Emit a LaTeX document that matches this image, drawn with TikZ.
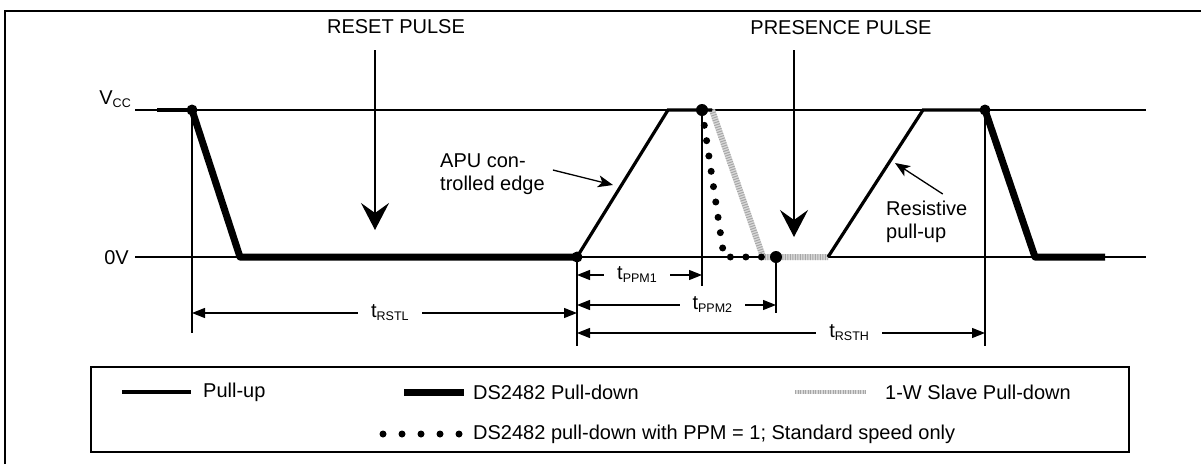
\documentclass[tikz,border=0pt]{standalone}
\usepackage{fontspec}
\setmainfont{Liberation Sans}
\usetikzlibrary{arrows.meta}

\newcommand{\subtxt}[1]{\raisebox{-3pt}{\fontsize{12.5}{12.5}\selectfont #1}}

\begin{document}
\begin{tikzpicture}[x=1pt, y=-1pt,
    lbl/.style={inner sep=0pt, font=\fontsize{20}{23}\selectfont},
    level/.style={line width=1.2pt},
    marker/.style={line width=1.3pt},
    pullup/.style={line width=3.2pt, line join=miter},
    pulldown/.style={line width=7pt, line join=round},
    slave/.style={line width=6pt, gray!30},
    slavetex/.style={line width=6pt, gray!70, dash pattern=on 1pt off 1.5pt},
    ppmdots/.style={line width=7pt, line cap=round, dash pattern=on 0pt off 15.5pt},
    dimline/.style={line width=1.3pt, {Triangle[length=13pt,width=10pt]}-{Triangle[length=13pt,width=10pt]}},
    dimlbl/.style={lbl, fill=white, inner xsep=13pt},
    pulsearrow/.style={line width=1.3pt, -{Stealth[length=27pt,width=28pt,inset=10pt]}},
    callout/.style={line width=1.3pt, -{Stealth[length=15pt,width=12pt,inset=4pt]}},
]
    \useasboundingbox (0,0) rectangle (1201,464);
    \draw[line width=1.6pt] (5,464) -- (5,11) -- (1201,11);

    % points of the waveform
    \coordinate (start) at (157,110);
    \coordinate (fall1) at (192,110);
    \coordinate (low1) at (240,257);
    \coordinate (rise1) at (577,257);
    \coordinate (top1) at (668,110);
    \coordinate (fall2) at (702,110);
    \coordinate (slv1) at (712,110);
    \coordinate (slv2) at (763,257);
    \coordinate (ppmlow) at (724,257);
    \coordinate (smp) at (776,257);
    \coordinate (rise2) at (828,257);
    \coordinate (top2) at (923,110);
    \coordinate (fall3) at (985,110);
    \coordinate (low3) at (1035,257);
    \coordinate (stop) at (1105,257);

    % levels
    \node[lbl, anchor=base east] (vcc) at (131,104) {V\subtxt{CC}};
    \node[lbl, anchor=east] (zero) at (129,258) {0V};
    \draw[level] (135,110) -- (1146,110);
    \draw[level] (135,257) -- (1146,257);

    % markers
    \draw[marker] (fall1) -- (fall1 |- 0,333);
    \draw[marker] (rise1) -- (rise1 |- 0,346);
    \draw[marker] (fall2) -- (fall2 |- 0,286);
    \draw[marker] (smp) -- (smp |- 0,313);
    \draw[marker] (fall3) -- (fall3 |- 0,346);

    % waveform
    \draw[pullup] (start) -- (fall1);
    \draw[pulldown] (fall1) -- (low1) -- (rise1);
    \draw[slave] (slv1) -- (slv2) -- (rise2);
    \draw[slavetex] (slv1) -- (slv2) -- (rise2);
    \draw[pullup] (rise1) -- (top1) -- (slv1);
    \draw[ppmdots] (fall2) -- (ppmlow) -- (smp);
    \draw[pullup] (rise2) -- (top2) -- (fall3);
    \draw[pulldown] (fall3) -- (low3) -- (stop);
    \fill (fall1) circle (5.5);
    \fill (rise1) circle (5.5);
    \fill (fall2) circle (6);
    \fill (smp) circle (6);
    \fill (fall3) circle (5.5);

    % pulses
    \node[lbl] (reset) at (396,27) {RESET PULSE};
    \coordinate (resettip) at (375,230);
    \draw[pulsearrow] (resettip |- 0,50) -- (resettip);
    \node[lbl] (presence) at (841,28) {PRESENCE PULSE};
    \coordinate (presencetip) at (794,237);
    \draw[pulsearrow] (presencetip |- 0,50) -- (presencetip);

    % edges
    \node[lbl, align=left, anchor=west] (apu) at (440,174) {APU con-\\trolled edge};
    \coordinate (apuedge) at (613,185);
    \draw[callout] ([shift={(8,-4)}]apu.east) -- (apuedge);
    \node[lbl, align=left, anchor=north west] (res) at (886,201) {Resistive\\pull-up};
    \coordinate (resedge) at (895,163);
    \draw[callout] ([shift={(16,-7)}]res.north) -- (resedge);

    % timings
    \draw[dimline] (fall1 |- 0,313) -- node[dimlbl, pos=0.514] (rstl) {t\subtxt{RSTL}} (rise1 |- 0,313);
    \draw[dimline] (rise1 |- 0,275) -- node[dimlbl, pos=0.48] (ppm1) {t\subtxt{PPM1}} (fall2 |- 0,275);
    \draw[dimline] (rise1 |- 0,305) -- node[dimlbl, pos=0.68] (ppm2) {t\subtxt{PPM2}} (smp |- 0,305);
    \draw[dimline] (rise1 |- 0,333) -- node[dimlbl, pos=0.667] (rsth) {t\subtxt{RSTH}} (fall3 |- 0,333);

    % legend
    \draw[line width=1.5pt] (91,367) rectangle (1129,452);
    \node[lbl, anchor=west] (lgpu) at (203,392) {Pull-up};
    \draw[pullup] ([xshift=-81pt]lgpu.west) -- ([xshift=-12pt]lgpu.west);
    \node[lbl, anchor=west] (lgpd) at (473,392) {DS2482 Pull-down};
    \draw[pulldown] ([xshift=-69pt]lgpd.west) -- ([xshift=-9pt]lgpd.west);
    \node[lbl, anchor=west] (lgsl) at (885,392) {1-W Slave Pull-down};
    \draw[slave, line width=4.5pt] ([xshift=-90pt]lgsl.west) -- ([xshift=-19pt]lgsl.west);
    \draw[slavetex, line width=4.5pt] ([xshift=-90pt]lgsl.west) -- ([xshift=-19pt]lgsl.west);
    \node[lbl, anchor=west] (lgppm) at (473,434) {DS2482 pull-down with PPM = 1; Standard speed only};
    \draw[ppmdots, dash pattern=on 0pt off 19pt] ([xshift=-90pt]lgppm.west) -- ([xshift=-12pt]lgppm.west);
\end{tikzpicture}
\end{document}
